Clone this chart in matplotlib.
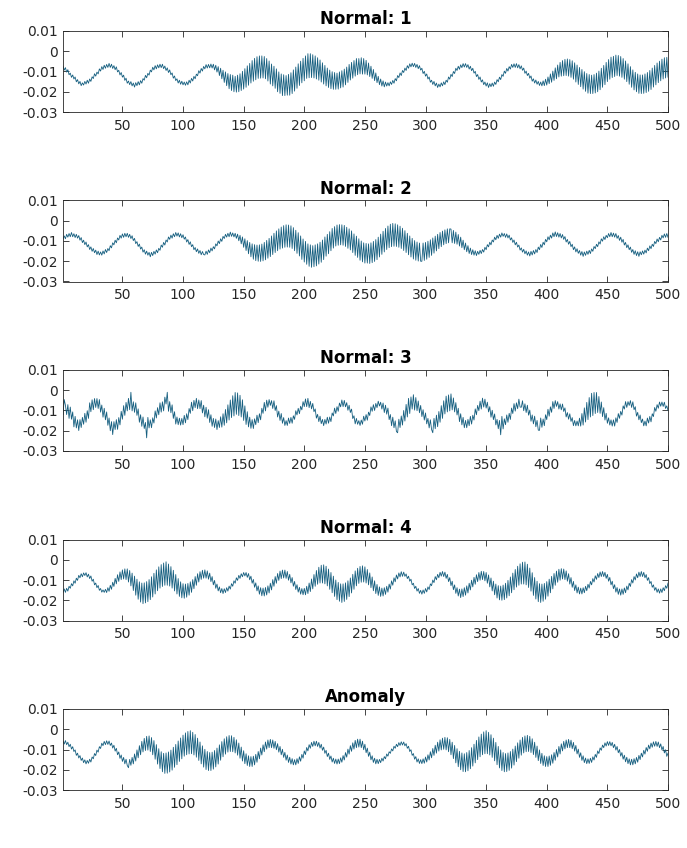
import numpy as np
from matplotlib import pyplot as plt

# signal values, in units of 1e-4
titles = ['Normal: 1', 'Normal: 2', 'Normal: 3', 'Normal: 4', 'Anomaly']

normal_1 = [
    -74, -93, -81, -103, -91, -116, -108, -129, -117, -137, -127, -151, -140, -161, -149, -170, -156,
    -167, -149, -162, -143, -158, -137, -149, -126, -135, -111, -123, -103, -112, -87, -98, -76, -90, -69, -84, -65, -80, -60,
    -80, -64, -85, -71, -91, -77, -102, -94, -117, -105, -128, -118, -144, -133, -158, -147, -165, -150, -171, -157, -177,
    -155, -170, -150, -166, -145, -158, -135, -143, -119, -131, -109, -118, -93, -102, -79, -92, -71, -87, -67, -82, -64,
    -81, -64, -86, -73, -95, -82, -105, -92, -116, -107, -133, -122, -145, -136, -157, -143, -163, -148, -166, -152,
    -168, -151, -166, -143, -157, -134, -147, -124, -136, -113, -121, -96, -108, -85, -98, -75, -87, -66, -83, -65, -82,
    -63, -83, -64, -92, -69, -103, -76, -120, -84, -136, -94, -154, -102, -170, -110, -185, -115, -194, -118, -200, -124,
    -202, -118, -200, -111, -194, -99, -187, -86, -178, -72, -168, -60, -157, -46, -148, -35, -141, -27, -134, -23, -133,
    -23, -132, -26, -136, -36, -147, -48, -162, -63, -171, -74, -183, -87, -200, -102, -208, -112, -219, -116, -219, -120,
    -217, -114, -217, -106, -209, -92, -197, -78, -183, -62, -169, -49, -156, -35, -146, -23, -134, -12, -131, -12,
    -130, -17, -132, -23, -137, -32, -143, -43, -152, -57, -162, -70, -171, -83, -179, -93, -185, -101, -188, -105, -188,
    -108, -187, -102, -181, -96, -177, -88, -166, -78, -154, -65, -142, -55, -133, -46, -123, -36, -116, -36, -112, -32,
    -113, -36, -113, -45, -117, -58, -125, -74, -134, -90, -145, -107, -155, -124, -165, -137, -172, -146, -176, -152, -172,
    -155, -171, -151, -164, -144, -158, -135, -146, -120, -130, -107, -120, -95, -105, -83, -95, -71, -84, -62, -77, -59, -76,
    -60, -80, -65, -86, -71, -93, -84, -110, -99, -123, -112, -137, -127, -153, -143, -164, -149, -171, -157, -179, -162,
    -176, -156, -171, -151, -165, -143, -153, -127, -138, -114, -125, -100, -110, -84, -95, -74, -89, -67, -81, -61, -78,
    -61, -80, -66, -88, -74, -96, -84, -108, -99, -125, -115, -139, -127, -152, -141, -165, -152, -172, -156, -179, -160,
    -175, -157, -173, -152, -164, -140, -151, -128, -140, -115, -124, -98, -109, -85, -98, -76, -88, -65, -80, -62, -80,
    -61, -82, -66, -87, -72, -94, -83, -109, -98, -120, -109, -133, -122, -148, -136, -157, -142, -163, -149, -169, -152,
    -171, -146, -170, -138, -167, -127, -160, -112, -153, -98, -144, -82, -136, -68, -127, -55, -123, -46, -121, -40, -120,
    -38, -123, -41, -129, -47, -138, -57, -152, -68, -164, -80, -175, -90, -187, -101, -198, -110, -207, -115, -209, -118,
    -209, -115, -206, -108, -200, -98, -190, -84, -178, -70, -165, -55, -150, -41, -138, -29, -130, -25, -125, -19, -120,
    -21, -123, -26, -129, -36, -138, -48, -150, -62, -163, -76, -178, -92, -191, -104, -200, -112, -208, -117, -209,
    -117, -208, -112, -204, -105, -198, -95, -189, -83, -177, -70, -166, -58, -155, -49, -146, -39, -137, -32, -132, -30, -128,
]

normal_2 = [
    -90, -75, -89, -67, -81, -63, -79, -58,
    -79, -64, -83, -67, -86, -73, -96, -83, -108, -96, -118, -105, -129, -118, -142, -129, -151, -137, -158, -145, -167, -150, -169, -154,
    -170, -149, -164, -142, -157, -137, -148, -123, -134, -109, -119, -96, -109, -85, -95, -72, -86, -65, -82, -62, -79,
    -62, -82, -67, -88, -74, -98, -87, -113, -103, -127, -115, -140, -130, -155, -143, -165, -150, -170, -156, -178,
    -156, -172, -151, -165, -144, -158, -136, -146, -120, -131, -107, -120, -95, -105, -80, -92, -71, -86, -64, -79, -58, -76,
    -60, -80, -64, -84, -69, -91, -80, -105, -93, -117, -104, -128, -118, -143, -132, -153, -139, -161, -147, -168, -152, -167,
    -169, -150, -166, -144, -158, -135, -149, -128, -139, -114, -124, -100, -113, -89, -102, -77, -88, -67, -81, -62, -79, -56, -77,
    -60, -80, -62, -87, -66, -99, -72, -114, -80, -131, -89, -147, -98, -163, -107, -178, -114, -190, -118, -197, -120, -200,
    -119, -201, -115, -198, -107, -193, -97, -185, -87, -177, -75, -167, -62, -157, -50, -148, -40, -140, -31, -135, -24, -131, -20, -130,
    -21, -131, -25, -137, -34, -148, -47, -161, -59, -174, -75, -191, -90, -204, -102, -215, -114, -225, -119, -230, -123,
    -227, -119, -223, -114, -214, -106, -205, -95, -192, -80, -175, -67, -163, -54, -148, -38, -135, -29, -125, -21, -121, -19, -119,
    -20, -121, -23, -127, -32, -136, -40, -144, -50, -157, -65, -171, -76, -181, -89, -195, -100, -203, -109, -209, -112, -209, -114,
    -211, -109, -207, -102, -201, -93, -192, -81, -179, -66, -166, -52, -154, -38, -142, -26, -133, -17, -128, -13, -126,
    -15, -127, -20, -131, -27, -137, -37, -147, -49, -157, -62, -168, -75, -179, -87, -189, -98, -195, -105, -199, -110, -200,
    -200, -110, -196, -107, -190, -101, -181, -94, -171, -85, -160, -76, -149, -67, -138, -58, -128, -51, -119, -45, -113, -40, -109, -40,
    -41, -109, -48, -112, -56, -116, -68, -125, -81, -133, -96, -143, -110, -153, -123, -162, -135, -167, -143, -170, -148, -172,
    -151, -166, -146, -162, -142, -155, -131, -143, -118, -129, -106, -119, -95, -105, -81, -94, -72, -87, -66, -81, -60, -77,
    -63, -82, -65, -85, -71, -95, -84, -107, -95, -119, -106, -130, -120, -145, -134, -155, -141, -163, -149, -170, -154, -174,
    -151, -169, -147, -164, -142, -157, -130, -143, -117, -132, -106, -119, -92, -104, -79, -94, -71, -86, -60, -79, -55, -78,
    -59, -81, -63, -85, -68, -92, -78, -105, -92, -116, -102, -128, -116, -143, -129, -154, -138, -161, -147, -170, -152, -176, -154,
    -171, -150, -166, -146, -162, -139, -151, -127, -138, -116, -128, -104, -115, -89, -101, -79, -93, -72, -84, -63, -79, -58, -79,
    -61, -81, -63, -87, -73, -97, -81, -106, -92, -120, -107, -133, -119, -143, -130, -156, -142, -166, -148, -172, -153, -176,
    -153, -168, -149, -165, -145, -159, -135, -148, -124, -138, -116, -127, -102, -113, -90, -104, -82, -95, -72, -85, -65, -82, -63, -82,
]

normal_3 = [
    -120, -46, -74, -120, -71, -139, -83, -143, -107, -181, -129, -186, -146, -199, -145,
    -184, -134, -168, -114, -158, -101, -139, -62, -106, -47, -96, -41, -85,
    -41, -90, -46, -108, -73, -133, -89, -146, -107, -173, -137, -200, -155, -219, -155,
    -194, -145, -193, -135, -171, -104, -143, -76, -124, -60, -102, -40, -96, -10,
    -102, -57, -109, -62, -124, -92, -158, -121, -178, -132, -189, -159, -235,
    -134, -186, -146, -185, -136, -162, -102, -137, -86, -121, -62, -108, -57, -102, -34, -68,
    -10, -104, -56, -111, -72, -139, -106, -167, -132, -170, -138, -172,
    -139, -170, -124, -161, -116, -145, -90, -114, -59, -101, -50, -86, -40,
    -91, -48, -91, -51, -112, -74, -131, -84, -138, -96, -159, -121, -178, -139, -184, -142, -194, -150,
    -184, -131, -182, -116, -173, -95, -161, -72, -147, -48, -135, -27, -127, -11, -119, -13,
    -125, -25, -132, -47, -149, -77, -169, -106, -181, -133, -188, -145,
    -189, -141, -170, -123, -160, -116, -146, -89, -114, -60, -102, -49, -84, -46, -75,
    -51, -90, -52, -100, -76, -132, -103, -149, -115, -163, -135, -174, -150,
    -174, -137, -164, -134, -163, -126, -144, -101, -122, -89, -116, -79, -97, -56, -81, -43, -81, -40,
    -86, -55, -92, -65, -106, -92, -138, -119, -155, -128, -165, -144, -175,
    -144, -167, -133, -163, -132, -155, -112, -127, -88, -115, -81, -104, -63, -82, -48, -81, -50,
    -82, -61, -99, -74, -110, -93, -140, -126, -166, -139, -168, -150,
    -174, -147, -168, -128, -152, -120, -148, -108, -125, -82, -104, -71, -100, -65, -86, -54, -78,
    -59, -93, -63, -110, -74, -118, -88, -145, -120, -175, -133, -185, -151, -204, -210,
    -143, -184, -127, -172, -100, -152, -70, -132, -40, -115, -33, -93, -22,
    -98, -36, -101, -53, -111, -75, -130, -96, -147, -112, -166, -139, -186, -146, -194, -210,
    -139, -190, -123, -180, -105, -158, -76, -139, -52, -117, -29, -107, -23, -102,
    -18, -97, -38, -107, -61, -122, -89, -155, -116, -171, -134, -185, -149, -185,
    -144, -175, -129, -167, -123, -147, -92, -121, -75, -101, -54, -93, -39, -83,
    -44, -88, -59, -107, -81, -133, -99, -145, -117, -171, -144, -190, -149, -220,
    -129, -191, -141, -170, -122, -158, -114, -144, -88, -115, -66, -103, -62, -91, -44, -83,
    -84, -52, -101, -67, -110, -74, -123, -98, -153, -122, -166, -128, -180, -149, -197, -198,
    -137, -183, -142, -175, -121, -145, -94, -128, -82, -109, -56, -90, -51, -80,
    -56, -93, -67, -97, -68, -105, -87, -132, -110, -143, -116, -154, -135, -175, -149, -176, -152,
    -176, -138, -177, -115, -172, -87, -157, -60, -145, -36, -132, -15, -125, -11, -115,
    -11, -110, -31, -114, -58, -130, -86, -147, -114, -163, -136, -172, -146, -177,
    -146, -177, -136, -159, -115, -139, -104, -123, -77, -93, -56, -85, -56, -75,
    -51, -85, -57, -96, -81, -128, -109, -146, -122, -160, -142, -176, -152,
    -176, -137, -162, -129, -156, -116, -130, -85, -104, -71, -89, -58, -79, -58,
    -80, -59, -90, -77, -100,
]

normal_4 = [
    -163, -144, -161, -141, -155, -131, -141, -118, -129, -104, -116, -91, -102, -77, -89, -69, -84, -65, -78,
    -64, -85, -71, -93, -80, -106, -96, -124, -115, -138, -127, -151, -142, -160, -149, -161,
    -146, -162, -138, -156, -126, -146, -111, -132, -92, -119, -74, -107, -60, -98, -50, -95, -45,
    -98, -45, -110, -53, -129, -66, -152, -81, -175, -96, -195, -109, -209, -115, -217,
    -114, -213, -108, -207, -98, -197, -84, -184, -67, -169, -50, -153, -35, -140, -24, -132, -16, -126, -10,
    -126, -21, -130, -34, -140, -52, -154, -73, -169, -93, -181, -109, -188, -118, -190,
    -120, -185, -117, -175, -109, -161, -98, -143, -83, -126, -69, -110, -59, -97, -52, -91, -50,
    -91, -55, -96, -66, -108, -83, -124, -102, -141, -120, -154, -134, -163, -142, -167,
    -143, -162, -138, -155, -130, -145, -118, -131, -104, -116, -89, -102, -77, -92, -69, -84, -63, -80,
    -63, -87, -68, -99, -81, -116, -97, -136, -114, -154, -129, -170, -138, -178, -140,
    -179, -137, -174, -129, -164, -116, -149, -98, -131, -83, -116, -68, -102, -56, -93, -51, -90,
    -51, -92, -58, -101, -72, -114, -88, -131, -107, -147, -123, -160, -136, -170, -142, -173,
    -141, -173, -131, -167, -115, -157, -95, -144, -73, -131, -53, -121, -37, -115, -27, -115,
    -25, -119, -32, -129, -46, -146, -63, -163, -81, -181, -100, -197, -112, -205, -119, -211,
    -119, -206, -114, -196, -104, -182, -90, -164, -72, -146, -55, -129, -42, -117, -33, -111, -30,
    -110, -35, -115, -48, -124, -65, -138, -85, -153, -104, -167, -122, -176, -134, -181, -140,
    -179, -138, -171, -131, -160, -120, -145, -104, -126, -89, -109, -75, -95, -65, -85, -59, -82,
    -61, -82, -70, -93, -81, -106, -96, -124, -116, -142, -131, -155, -142, -166, -151, -170,
    -149, -166, -142, -159, -134, -147, -119, -128, -100, -113, -83, -99, -72, -89, -62, -81, -58,
    -83, -61, -92, -72, -108, -88, -128, -106, -148, -124, -166, -138, -179, -145, -187,
    -144, -182, -138, -175, -129, -164, -116, -149, -101, -134, -87, -121, -74, -108, -63, -101, -57, -98,
    -58, -104, -63, -116, -75, -134, -90, -154, -106, -173, -120, -189, -128, -198, -130,
    -200, -125, -197, -116, -189, -102, -178, -85, -163, -66, -148, -48, -135, -32, -126, -20, -120, -12, -120,
    -11, -124, -22, -137, -41, -155, -64, -176, -88, -194, -106, -207, -118, -211,
    -120, -205, -117, -195, -108, -180, -96, -163, -82, -144, -68, -126, -56, -111, -47, -101, -44, -95,
    -46, -98, -55, -106, -69, -120, -88, -136, -107, -152, -124, -164, -135, -169, -140,
    -169, -138, -163, -131, -153, -121, -140, -107, -124, -93, -110, -79, -97, -68, -88, -60, -83, -58,
    -83, -62, -92, -72, -106, -87, -124, -106, -143, -123, -160, -137, -171, -144, -175,
    -144, -171, -139, -163, -130, -149, -116, -132, -98, -115, -83, -100, -70, -89, -61, -83, -58,
    -83, -62, -89, -73, -102, -88, -118, -107, -136, -124, -151, -137, -161, -144, -165,
    -144, -162, -138, -153, -128, -141, -115,
]

anomaly = [
    -58, -73, -56, -76, -64, -86, -74, -98, -86, -110, -102, -129, -118, -142, -130, -154, -142, -165, -151, -171, -154,
    -168, -148, -162, -137, -146, -120, -130, -103, -113, -86, -95, -69, -81, -60, -76, -57,
    -75, -58, -80, -68, -93, -79, -108, -94, -126, -112, -144, -127, -159, -139, -171, -148, -179, -190,
    -149, -178, -139, -171, -122, -157, -102, -141, -81, -126, -60, -112, -45, -105, -35, -103,
    -33, -110, -41, -126, -56, -148, -76, -172, -96, -194, -111, -210, -119, -218,
    -117, -217, -112, -211, -103, -202, -89, -188, -75, -175, -58, -159, -43, -146, -29, -133, -18, -126, -11, -122, -7,
    -121, -15, -127, -26, -138, -44, -154, -63, -171, -82, -187, -99, -199, -110, -204, -115,
    -204, -113, -197, -105, -186, -93, -172, -77, -153, -61, -136, -47, -123, -37, -113, -31, -110,
    -32, -111, -40, -117, -52, -128, -68, -143, -88, -157, -106, -170, -121, -179, -131, -184, -135,
    -184, -133, -176, -124, -163, -110, -146, -93, -127, -77, -111, -63, -98, -53, -91, -50,
    -91, -53, -94, -60, -101, -71, -113, -85, -126, -99, -139, -114, -153, -127, -164, -138, -172, -145, -176, -150,
    -176, -145, -169, -136, -158, -124, -143, -107, -125, -90, -107, -76, -94, -65, -85, -59, -82,
    -59, -85, -65, -93, -74, -104, -88, -119, -104, -135, -118, -149, -132, -162, -143, -169, -147, -172,
    -147, -170, -141, -163, -130, -152, -115, -138, -98, -123, -81, -109, -67, -98, -55, -91, -49, -88,
    -49, -91, -59, -101, -74, -116, -93, -134, -113, -151, -131, -164, -143, -171, -148,
    -170, -149, -165, -143, -157, -135, -146, -122, -133, -111, -119, -97, -107, -84, -94, -74, -86, -66, -80, -62, -78,
    -63, -82, -71, -94, -84, -110, -101, -129, -120, -148, -135, -162, -146, -169, -150,
    -170, -146, -168, -137, -162, -126, -152, -111, -141, -95, -129, -79, -118, -64, -108, -52, -102, -44, -99, -40,
    -102, -42, -111, -50, -126, -64, -145, -80, -166, -96, -185, -109, -200, -117, -209, -121,
    -210, -115, -205, -105, -195, -91, -182, -74, -166, -55, -150, -38, -136, -24, -126, -13, -121, -7,
    -121, -15, -127, -27, -139, -44, -156, -65, -175, -85, -191, -102, -204, -115, -210, -120,
    -209, -117, -203, -110, -192, -98, -177, -83, -160, -67, -143, -53, -128, -40, -117, -33, -111, -30,
    -110, -35, -115, -47, -125, -64, -139, -83, -155, -102, -169, -119, -179, -131, -184, -135,
    -184, -132, -178, -126, -168, -115, -153, -100, -137, -85, -122, -72, -107, -60, -97, -53, -91, -50,
    -91, -54, -96, -65, -108, -80, -122, -98, -139, -116, -154, -131, -165, -142, -170, -146,
    -169, -143, -164, -136, -152, -124, -139, -107, -120, -92, -104, -78, -91, -67, -83, -61, -80,
    -61, -82, -65, -91, -74, -103, -85, -116, -100, -133, -115, -148, -128, -161, -138, -170, -146, -176, -148,
    -176, -145, -171, -139, -163, -129, -150, -118, -137, -104, -123, -90, -109, -78, -97, -68, -89, -62, -84, -60,
    -85, -63, -91, -72, -102, -85, -117, -101, -134, -118,
]

signals = [normal_1, normal_2, normal_3, normal_4, anomaly]
y_ticks = [-0.03, -0.02, -0.01, 0, 0.01]
y_labels = ['-0.03', '-0.02', '-0.01', '0', '0.01']
x_ticks = list(range(50, 501, 50))

plt.rcParams['axes.unicode_minus'] = False
fig = plt.figure(figsize=(6.87, 8.48), dpi=100)

W, H = 687, 848
for i, (title, series) in enumerate(zip(titles, signals)):
    top = 31 + 169.5 * i
    ax = fig.add_axes([63 / W, 1 - (top + 81) / H, 605 / W, 81 / H])
    y = np.array(series) * 1e-4
    ax.plot(np.arange(1, len(y) + 1), y, color='#165f80', linewidth=0.6)
    ax.set_xlim(1, 500)
    ax.set_ylim(-0.03, 0.01)
    ax.set_xticks(x_ticks)
    ax.set_yticks(y_ticks)
    ax.set_yticklabels(y_labels)
    ax.tick_params(direction='in', top=True, right=True, length=4, width=0.6,
                   labelsize=10, colors='#262626')
    ax.tick_params(axis='x', pad=5)
    for s in ax.spines.values():
        s.set_linewidth(0.6)
        s.set_color('#262626')
    ax.set_title(title, fontweight='bold', fontsize=12, pad=5)

fig.savefig('out.png', dpi=100)
